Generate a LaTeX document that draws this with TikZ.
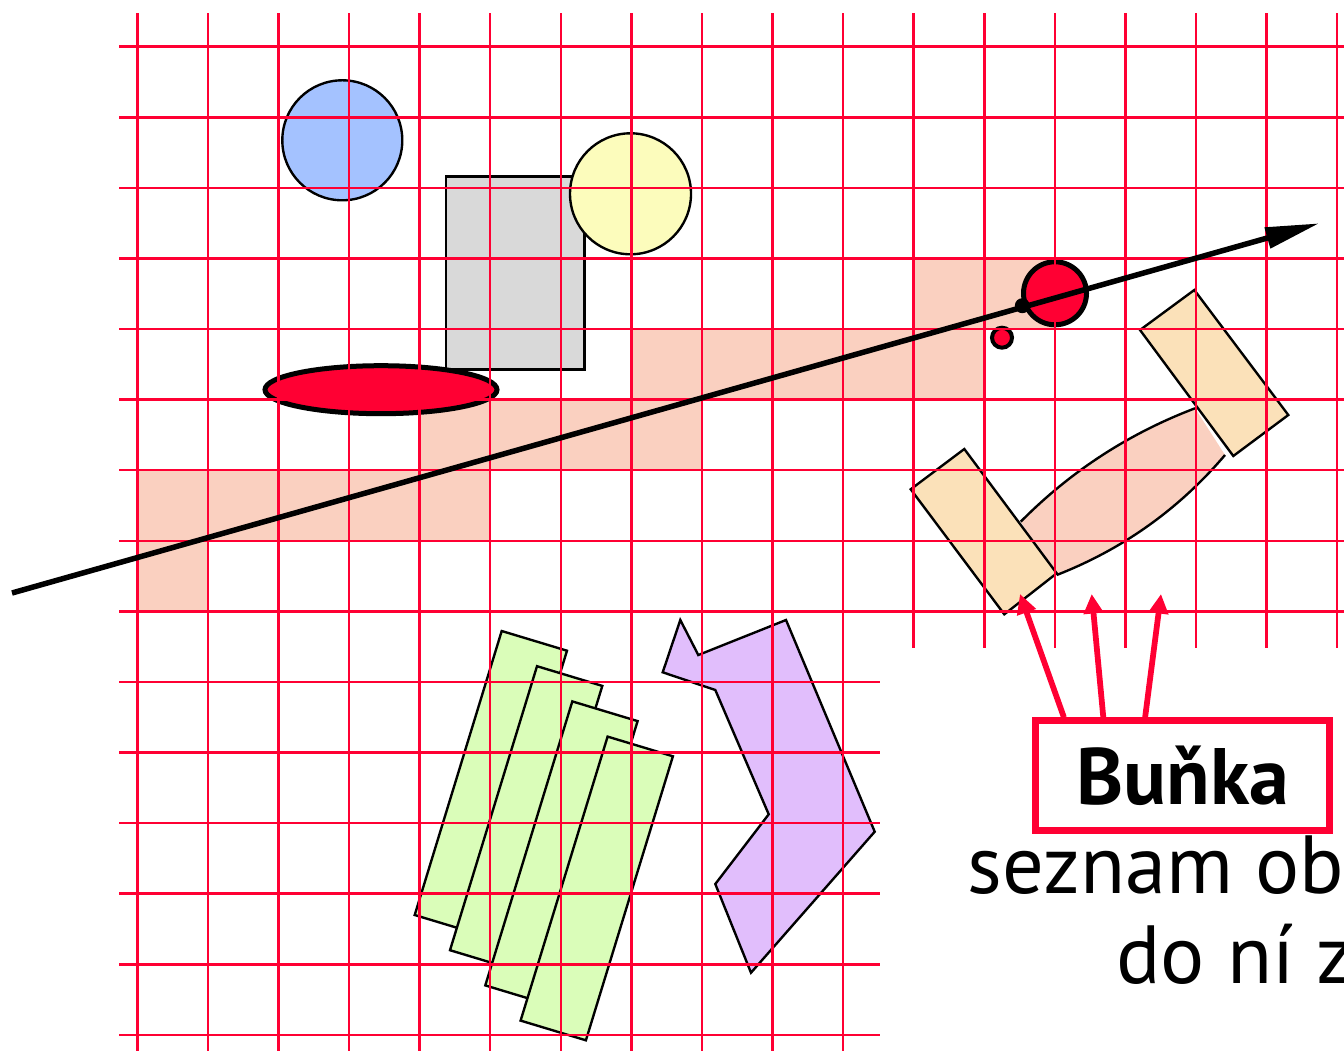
\documentclass[tikz,border=0pt]{standalone}
\usepackage{fontspec}
\setmainfont{PT Sans}
\usetikzlibrary{arrows.meta,calc}
\definecolor{gridred}{RGB}{255,0,51}
\definecolor{cellc}{RGB}{250,208,192}
\definecolor{orangec}{RGB}{251,225,185}
\definecolor{bluec}{RGB}{164,194,255}
\definecolor{yellowc}{RGB}{252,252,188}
\definecolor{grayc}{RGB}{217,217,217}
\definecolor{greenc}{RGB}{218,253,185}
\definecolor{purplec}{RGB}{225,190,252}
\begin{document}
\begin{tikzpicture}[x=0.4pt,y=-0.4pt,
  gridline/.style={gridred,line width=1pt},
  obj/.style={draw=black,line width=0.95pt},
  redobj/.style={draw=black,fill=gridred},
  redarrow/.style={gridred,line width=2.3pt,-{Triangle[length=7.8pt,width=7.6pt]}},
  labelbox/.style={draw=gridred,line width=2.7pt,fill=white,minimum width=117.6pt,minimum height=43.8pt,inner sep=0pt,font=\fontsize{32}{36}\selectfont\bfseries},
  caption/.style={anchor=base west,inner sep=0pt,font=\fontsize{33}{38}\selectfont}]
\useasboundingbox (0,0) rectangle (1344,1051);
% traversed cells
\foreach \i/\j in {11/3,12/3,7/4,8/4,9/4,10/4,11/4,4/5,5/5,6/5,7/5,0/6,1/6,2/6,3/6,4/6,0/7}
  \fill[cellc] ({137.3+70.58*\i},{46.7+70.58*\j}) rectangle ++(70.58,70.58);
% objects
\draw[obj,fill=bluec] (342.3,140.3) circle[radius=60];
\draw[obj,fill=grayc] (445.7,176.5) rectangle (584.5,369.5);
\draw[obj,fill=yellowc] (630.5,193.8) circle[radius=60.5];
\draw[redobj,line width=2pt] (381,389.7) ellipse[x radius=116,y radius=24];
\foreach \k in {0,...,3}
  \draw[obj,fill=greenc] ({501.7+35.3*\k},{631+35.2*\k}) -- ++(65.3,19.7) -- ++(-87,284) -- ++(-65.3,-19.7) -- cycle;
\draw[obj,fill=purplec] (680.3,620) -- (698.3,655) -- (786,620) -- (874.7,831.7) -- (751,972.7)
  -- (715.3,884) -- (768.7,814.3) -- (715.3,690) -- (662.7,672.3) -- cycle;
% composite object
\fill[cellc] (1020.7,521.7) .. controls (1070.6,471.3) and (1128.7,433.5) .. (1195,408.3)
  -- (1225,455) .. controls (1179,509.1) and (1122.9,549.1) .. (1056.7,575) -- cycle;
\draw[line width=0.95pt] (1020.7,521.7) .. controls (1070.6,471.3) and (1128.7,433.5) .. (1195,408.3);
\draw[line width=0.95pt] (1225,455) .. controls (1179,509.1) and (1122.9,549.1) .. (1056.7,575);
\draw[obj,fill=orangec] (1194.3,290) -- (1288.3,415) -- (1233.3,456) -- (1140,330) -- cycle;
\draw[obj,fill=orangec] (964.3,449) -- (1056.7,573.3) -- (1004.3,614.3) -- (910.7,489.3) -- cycle;
% hit objects
\draw[redobj,line width=2pt] (1055,293.3) circle[radius=31.5];
\draw[redobj,line width=1.6pt] (1002,337.7) circle[radius=10];
% grid
\foreach \i in {0,...,10}
  \draw[gridline] ({137.3+70.58*\i},13.3) -- ({137.3+70.58*\i},1060);
\foreach \i in {11,...,17}
  \draw[gridline] ({137.3+70.58*\i},13.3) -- ({137.3+70.58*\i},647.7);
\foreach \j in {0,...,8}
  \draw[gridline] (119,{46.7+70.58*\j}) -- (1360,{46.7+70.58*\j});
\foreach \j in {9,...,14}
  \draw[gridline] (119,{46.7+70.58*\j}) -- (880,{46.7+70.58*\j});
% ray
\coordinate (rs) at (12,593);
\coordinate (re) at (1319.3,223.3);
\draw[line width=2.2pt,-{Triangle[length=21.6pt,width=8.2pt]}] (rs) -- (re);
\fill (1022.3,305.7) circle[radius=7.5];
% label
\node[labelbox] (box) at (1182.7,775.5) {Buňka};
\coordinate (t1) at (1020,594);
\coordinate (t2) at (1091.7,594);
\coordinate (t3) at (1161,594);
\draw[redarrow] ($(box.north west)!0.105!(box.north east)$) -- (t1);
\draw[redarrow] ($(box.north west)!0.236!(box.north east)$) -- (t2);
\draw[redarrow] ($(box.north west)!0.375!(box.north east)$) -- (t3);
\node[caption] (c1) at (967,893) {seznam ob};
\node[caption] (c2) at (1116,983) {do ní z};
\end{tikzpicture}
\end{document}
